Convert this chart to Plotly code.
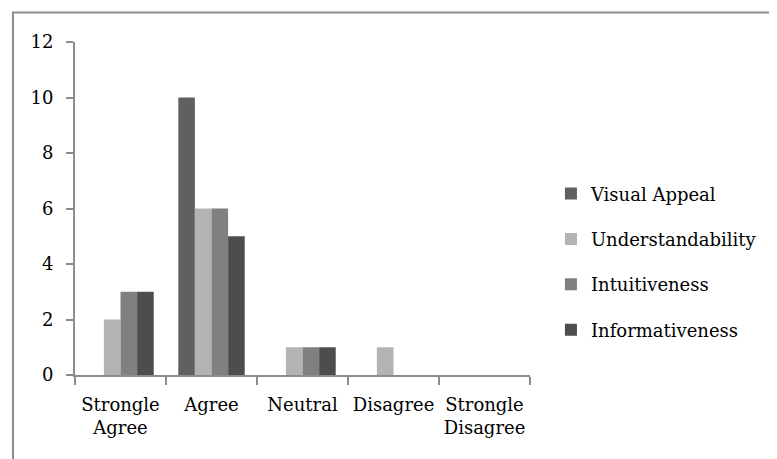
import plotly.graph_objects as go

categories = ["Strongle<br>Agree", "Agree", "Neutral", "Disagree", "Strongle<br>Disagree"]
visual_appeal = [0, 10, 0, 0, 0]
understandability = [2, 6, 1, 1, 0]
intuitiveness = [3, 6, 1, 0, 0]
informativeness = [3, 5, 1, 0, 0]
series_names = ["Visual Appeal", "Understandability", "Intuitiveness", "Informativeness"]
colors = ["#606060", "#b3b3b3", "#808080", "#4d4d4d"]
y_ticks = [0, 2, 4, 6, 8, 10, 12]

FONT = "DejaVu Serif"
fig = go.Figure()
for i, (name, vals) in enumerate(zip(series_names, [visual_appeal, understandability, intuitiveness, informativeness])):
    fig.add_trace(go.Bar(x=categories, y=vals, name=name, marker_color=colors[i],
                         marker_line_width=0, legendgroup=name))

axis_gray = "#8c8c8c"
fig.update_layout(
    width=777, height=459,
    margin=dict(l=67, r=255, t=34, b=92, autoexpand=False),
    paper_bgcolor="white", plot_bgcolor="white",
    barmode="group", bargap=0.27, bargroupgap=0,
    font=dict(family=FONT, size=18, color="black"),
    showlegend=True,
    legend=dict(x=1.046, y=0.34, xanchor="left", yanchor="middle",
                font=dict(family=FONT, size=18, color="black"),
                tracegroupgap=19, itemwidth=30, bgcolor="rgba(0,0,0,0)"),
    xaxis=dict(type="category", range=[-0.5, 4.5], showline=True, linecolor=axis_gray, linewidth=2,
               ticks="outside", tickson="boundaries", ticklen=8, tickcolor=axis_gray, tickwidth=2,
               showgrid=False, zeroline=False, tickfont=dict(family=FONT, size=18, color="black"),
               tickangle=0, automargin=False, ticklabelstandoff=12),
    yaxis=dict(range=[0, 12], tickvals=y_ticks, showline=True, linecolor=axis_gray, linewidth=2,
               ticks="outside", ticklen=7, tickcolor=axis_gray, tickwidth=2,
               showgrid=False, zeroline=False, tickfont=dict(family=FONT, size=18, color="black"),
               automargin=False, ticklabelstandoff=9),
    shapes=[dict(type="rect", xref="paper", yref="paper",
                 x0=(13 - 75) / 455, x1=(800 - 75) / 455,
                 y0=(375 - 480) / 333, y1=(375 - 12.5) / 333,
                 line=dict(color="#8c8c8c", width=2), fillcolor="rgba(0,0,0,0)", layer="below")],
)

fig.write_html("out.html")
